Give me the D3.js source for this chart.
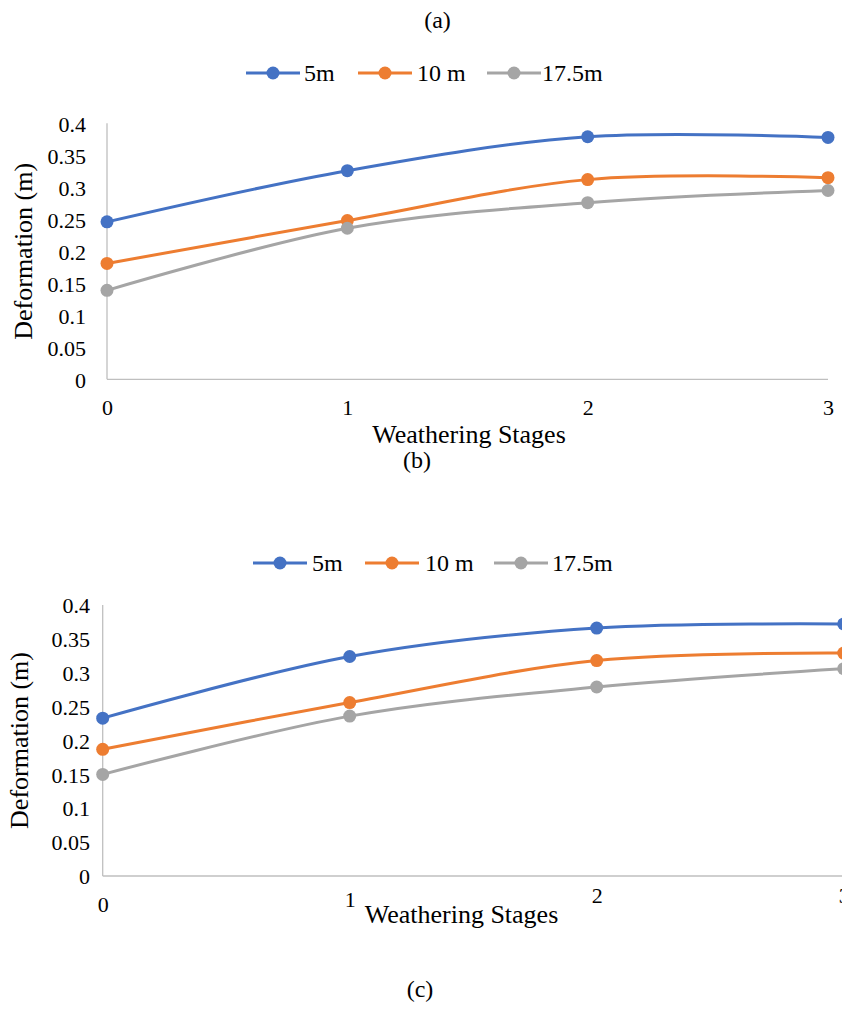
<!DOCTYPE html>
<html><head><meta charset="utf-8">
<script src="https://cdn.jsdelivr.net/npm/d3@7"></script>
<style>
body{margin:0;background:#fff}
svg{display:block}
</style>
</head><body>
<svg id="chart" width="842" height="1012"></svg>
<script>
// ---- data ----
const stages = [0, 1, 2, 3];
const stageLabels = ["0", "1", "2", "3"];
const seriesNames = ["5m", "10 m", "17.5m"];
const seriesColors = ["#4472C4", "#ED7D31", "#A5A5A5"];
const yTickValues = [0, 0.05, 0.1, 0.15, 0.2, 0.25, 0.3, 0.35, 0.4];
const yTickLabels = ["0", "0.05", "0.1", "0.15", "0.2", "0.25", "0.3", "0.35", "0.4"];
const panelA_5m   = [0.246, 0.326, 0.379, 0.378];
const panelA_10m  = [0.181, 0.248, 0.312, 0.315];
const panelA_175m = [0.139, 0.236, 0.276, 0.295];
const panelC_5m   = [0.233, 0.324, 0.366, 0.372];
const panelC_10m  = [0.187, 0.256, 0.318, 0.329];
const panelC_175m = [0.150, 0.236, 0.279, 0.306];
const captions = ["(a)", "(b)", "(c)"];
const xTitle = "Weathering Stages";
const yTitle = "Deformation (m)";

const FONT = "'Liberation Serif'";
const svg = d3.select("#chart");
const axisColor = "#BFBFBF";

function txt(sel, size) {
  return sel.style("font-family", FONT).style("font-size", size + "px").style("fill", "#000");
}

function drawPanel(g, L, series) {
  const x = d3.scaleLinear().domain([0, 3]).range([L.x0, L.x3]);
  const y = d3.scaleLinear().domain([0, 0.4]).range([L.yBottom, L.yTop]);

  g.append("line").attr("x1", x(0)).attr("x2", x(0)).attr("y1", y(0)).attr("y2", y(0.4))
    .attr("stroke", axisColor).attr("stroke-width", 1.3);
  g.append("line").attr("x1", x(0)).attr("x2", x(3)).attr("y1", y(0)).attr("y2", y(0))
    .attr("stroke", axisColor).attr("stroke-width", 1.3);

  const yAxis = d3.axisLeft(y).tickValues(yTickValues).tickSize(0)
    .tickFormat((d, i) => yTickLabels[i]);
  const ya = g.append("g").attr("transform", `translate(${L.yTickRight},0)`).call(yAxis);
  ya.attr("font-family", FONT).attr("font-size", L.tickSize);
  ya.select(".domain").remove();
  txt(ya.selectAll("text").attr("x", 0).attr("dy", "0.35em"), L.tickSize);

  const xAxis = d3.axisBottom(x).tickValues(stages).tickSize(0)
    .tickFormat((d, i) => stageLabels[i]);
  const xa = g.append("g").attr("transform", `translate(0,${L.xTickBaseline})`).call(xAxis);
  xa.attr("font-family", FONT).attr("font-size", L.tickSize);
  xa.select(".domain").remove();
  txt(xa.selectAll("text").attr("y", 0).attr("dy", (d, i) => L.xTickDy[i]), L.tickSize);

  txt(g.append("text").attr("x", L.xTitleX).attr("y", L.xTitleY).attr("text-anchor", "middle"), L.titleSize)
    .text(xTitle);
  txt(g.append("text").attr("transform", `translate(${L.yTitleX},${(y(0) + y(0.4)) / 2}) rotate(-90)`)
    .attr("text-anchor", "middle"), L.titleSize).text(yTitle);

  const line = d3.line().x((d, i) => x(stages[i])).y(d => y(d)).curve(d3.curveCardinal.tension(0));
  series.forEach((vals, si) => {
    g.append("path").attr("d", line(vals)).attr("fill", "none")
      .attr("stroke", seriesColors[si]).attr("stroke-width", 3).attr("stroke-linecap", "round");
  });
  series.forEach((vals, si) => {
    g.selectAll(null).data(vals).enter().append("circle")
      .attr("cx", (d, i) => x(stages[i])).attr("cy", d => y(d)).attr("r", 6.5)
      .attr("fill", seriesColors[si]);
  });

  seriesNames.forEach((name, si) => {
    const mx = L.legendMarkers[si];
    g.append("line").attr("x1", mx - 27).attr("x2", mx + 27).attr("y1", L.legendY).attr("y2", L.legendY)
      .attr("stroke", seriesColors[si]).attr("stroke-width", 3);
    g.append("circle").attr("cx", mx).attr("cy", L.legendY).attr("r", 6.5).attr("fill", seriesColors[si]);
    txt(g.append("text").attr("x", L.legendText[si]).attr("y", L.legendY).attr("dy", "0.35em"), L.legendSize)
      .text(name);
  });
}

const layoutA = {
  x0: 107, x3: 828, yTop: 123.3, yBottom: 379.3, yTickRight: 86, xTickBaseline: 415,
  xTickDy: [0, 0, 0, 0],
  xTitleX: 469, xTitleY: 443, yTitleX: 32, legendY: 73,
  legendMarkers: [273, 385, 514], legendText: [304, 417, 542],
  tickSize: 22, titleSize: 26, legendSize: 24
};
const layoutC = {
  x0: 102.7, x3: 843.7, yTop: 605, yBottom: 876, yTickRight: 90, xTickBaseline: 906,
  xTickDy: [6, 1, -3, -3],
  xTitleX: 461.5, xTitleY: 923, yTitleX: 28, legendY: 563,
  legendMarkers: [280, 392, 521], legendText: [312, 425, 552],
  tickSize: 22, titleSize: 26, legendSize: 24
};

drawPanel(svg.append("g"), layoutA, [panelA_5m, panelA_10m, panelA_175m]);
drawPanel(svg.append("g"), layoutC, [panelC_5m, panelC_10m, panelC_175m]);

const capPos = [[437.5, 28], [417, 468], [420, 997]];
captions.forEach((c, i) => {
  txt(svg.append("text").attr("x", capPos[i][0]).attr("y", capPos[i][1]).attr("text-anchor", "middle"), 24)
    .text(c);
});
</script>
</body></html>
